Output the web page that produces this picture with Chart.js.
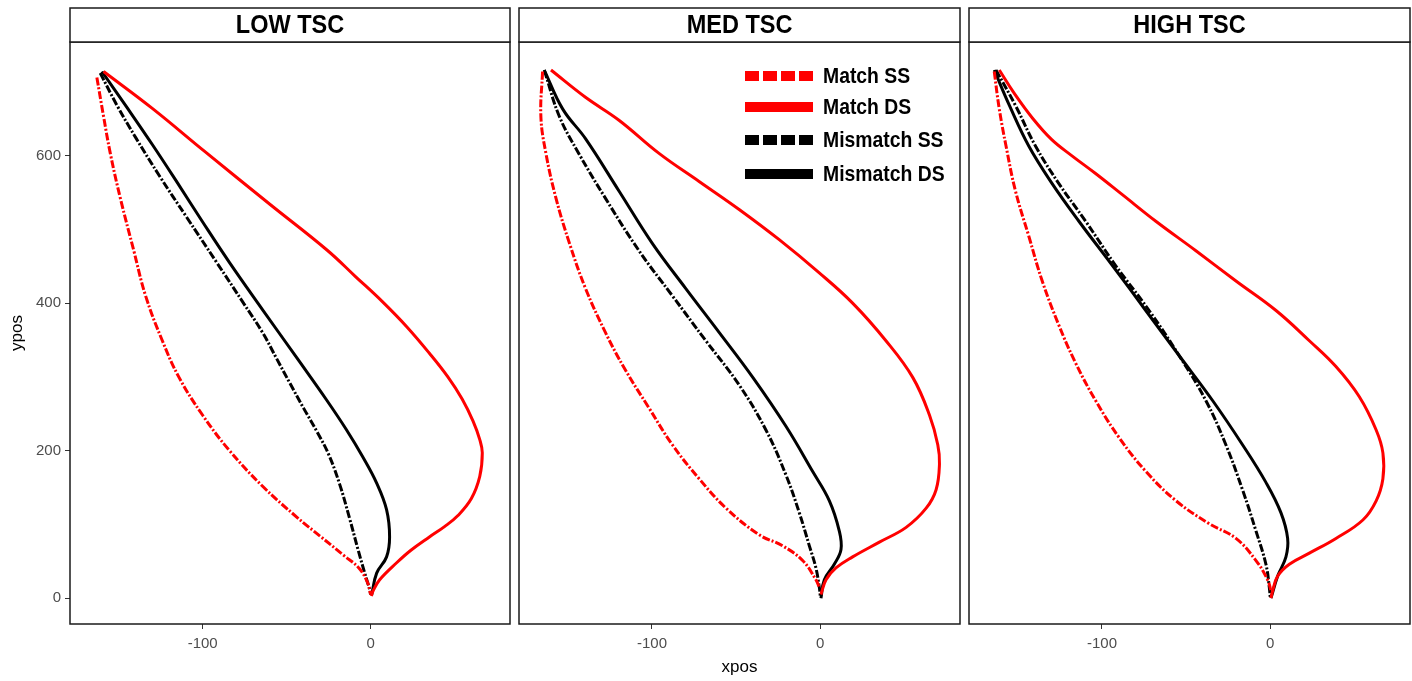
<!DOCTYPE html>
<html>
<head>
<meta charset="utf-8">
<script src="https://cdn.jsdelivr.net/npm/chart.js@4.4.1/dist/chart.umd.min.js"></script>
<style>
  body { margin: 0; background: #fff; width: 1412px; height: 681px; overflow: hidden; position: relative; }
  canvas { position: absolute; top: 0; }
</style>
</head>
<body>
<canvas id="low" width="515" height="681" style="left:0px"></canvas>
<canvas id="med" width="450" height="681" style="left:515px"></canvas>
<canvas id="high" width="447" height="681" style="left:965px"></canvas>
<script>
// Panels, series and ticks
const panelTitles = ['LOW TSC', 'MED TSC', 'HIGH TSC'];
const seriesNames = ['Match SS', 'Match DS', 'Mismatch SS', 'Mismatch DS'];
const xTicks = [-100, 0];
const yTicks = [0, 200, 400, 600];

// LOW TSC traces [xpos, ypos]
const lowMatchSS = [[-163,706],[-159,653],[-155,603],[-149,542],[-141,471],[-134,410],[-124,349],[-114,299],[-100,248],[-84,200],[-64,151],[-44,110],[-30,84],[-16,58],[-7,41],[-1.8,21],[0,5]];
const lowMatchDS = [[-159,714],[-130,664],[-99,606],[-60,534],[-26,472],[-9,436],[7,402],[21.5,368],[35,332],[46,300],[54.5,270],[61,240],[65,215],[66.5,197],[65,165],[60,135],[52,112],[44,97],[35,83],[24,65],[15.5,48],[5.4,25],[1.5,10],[0.4,3]];
const lowMismatchSS = [[-161,712],[-151,668],[-139.5,623],[-125.6,572],[-109.7,517],[-91.9,456],[-75.7,400],[-64.3,360],[-56,325],[-48.2,292],[-40,258],[-32,226],[-25,195],[-18.5,155],[-12.5,108],[-7.5,66],[-3.5,34],[-0.6,12],[0,5]];
const lowMismatchDS = [[-160,714],[-145,665],[-130,615],[-115,563],[-100,510],[-84,455],[-64.3,391],[-44,326],[-26,268],[-14.3,228],[-4.8,192],[3.6,156],[9.5,120],[11.3,83],[9.5,56],[3.6,34],[0.6,4]];

// MED TSC traces
const medMatchSS = [[-165,714],[-166,653],[-163,603],[-157,542],[-149,481],[-139.5,420],[-127.6,360],[-115.7,309],[-101.8,258],[-87.9,208],[-72,162],[-56,122],[-36.3,86],[-22.4,71],[-10.5,51],[-2.6,25],[-0.6,15]];
const medMatchDS = [[-160,716],[-139.5,679],[-119.6,648],[-95.8,603],[-72,565],[-48.2,527],[-24.4,486],[-0.6,441],[19.2,400],[39,349],[55,299],[64.9,248],[69.8,208],[70.8,182],[68.8,147],[62.9,122],[51,96],[35.1,76],[19.2,56],[9.3,41],[3.4,25],[0.4,5]];
const medMismatchSS = [[-164,716],[-155,653],[-143.5,603],[-127.6,542],[-107.7,471],[-87.9,410],[-68,349],[-48.2,289],[-32.3,228],[-20.4,167],[-12.5,116],[-6.5,71],[-2.6,41],[-0.6,15],[0,3]];
const medMismatchDS = [[-164,716],[-153,663],[-139.5,623],[-119.6,552],[-99.8,481],[-80,420],[-60,360],[-40,299],[-20.4,233],[-4.6,172],[5.4,132],[11.3,91],[12.3,66],[8.3,46],[2.4,25],[0.4,0]];

// HIGH TSC traces
const highMatchSS = [[-164,714],[-161,663],[-157,613],[-151.4,552],[-143.5,491],[-135.5,430],[-125.6,370],[-115.7,319],[-103.8,268],[-89.9,218],[-74,172],[-56,132],[-36.3,101],[-20.4,81],[-8.5,51],[-1.6,25],[0.4,10]];
const highMatchDS = [[-161,716],[-152,684],[-141,650],[-130,622],[-118,600],[-104,576],[-87.9,547],[-68,511],[-44.2,471],[-20.4,430],[3.4,390],[23.2,349],[39,314],[52.9,273],[62.9,228],[66.9,197],[66.9,162],[62.9,132],[55,106],[39,81],[23.2,61],[11.3,46],[4.4,30],[1.4,10],[0.4,0]];
const highMismatchSS = [[-163,716],[-151.4,668],[-139.5,613],[-125.6,562],[-109.7,511],[-91.9,451],[-72,390],[-54.2,329],[-38.3,268],[-26.4,208],[-16.5,147],[-8.5,91],[-2.6,46],[-0.6,15],[0,0]];
const highMismatchDS = [[-164,716],[-155,668],[-143.5,613],[-129.6,562],[-113.7,511],[-93.8,451],[-74,390],[-54.2,329],[-34.3,268],[-16.5,208],[-2.6,157],[6.3,116],[10.3,81],[9.3,56],[4.4,30],[0.4,0]];

const panelData = [
    [lowMatchSS, lowMatchDS, lowMismatchSS, lowMismatchDS],
    [medMatchSS, medMatchDS, medMismatchSS, medMismatchDS],
    [highMatchSS, highMatchDS, highMismatchSS, highMismatchDS]
];

const seriesColors = ['#ff0000', '#ff0000', '#000000', '#000000'];
const isDashed = [true, false, true, false];

// frame around the panel + facet strip on top
const panelFrame = {
    id: 'panelFrame',
    afterDraw(chart, args, opts) {
        const { ctx, chartArea: a } = chart;
        ctx.save();
        ctx.strokeStyle = '#1a1a1a';
        ctx.lineWidth = 1.5;
        ctx.strokeRect(a.left, a.top, a.right - a.left, a.bottom - a.top);
        ctx.fillStyle = '#fff';
        ctx.fillRect(a.left, 8, a.right - a.left, a.top - 8);
        ctx.strokeRect(a.left, 8, a.right - a.left, a.top - 8);
        ctx.fillStyle = '#000';
        ctx.font = 'bold 25px "Liberation Sans", Arial, sans-serif';
        ctx.textAlign = 'center';
        ctx.textBaseline = 'middle';
        ctx.translate((a.left + a.right) / 2, 26);
        ctx.scale(0.94, 1);
        ctx.fillText(opts.title, 0, 0);
        ctx.restore();
    }
};

// legend drawn inside the middle panel
const insideLegend = {
    id: 'insideLegend',
    afterDatasetsDraw(chart, args, opts) {
        if (!opts.show) return;
        const ctx = chart.ctx;
        const rows = [76, 107, 140, 174];
        ctx.save();
        chart.data.datasets.forEach((ds, i) => {
            ctx.beginPath();
            ctx.lineWidth = 10;
            ctx.lineCap = 'butt';
            ctx.strokeStyle = ds.borderColor;
            ctx.setLineDash(isDashed[i] ? [14, 4] : []);
            ctx.moveTo(230, rows[i]);
            ctx.lineTo(298, rows[i]);
            ctx.stroke();
            ctx.setLineDash([]);
            ctx.save();
            ctx.fillStyle = '#000';
            ctx.font = 'bold 22px "Liberation Sans", Arial, sans-serif';
            ctx.textAlign = 'left';
            ctx.textBaseline = 'middle';
            ctx.translate(308, rows[i] + 1);
            ctx.scale(0.88, 1);
            ctx.fillText(ds.label, 0, 0);
            ctx.restore();
        });
        ctx.restore();
    }
};

function makePanel(id, idx, padding) {
    const ctx = document.getElementById(id).getContext('2d');
    const showY = idx === 0;
    new Chart(ctx, {
        type: 'scatter',
        data: {
            datasets: seriesNames.map((name, s) => ({
                label: name,
                data: panelData[idx][s].map(p => ({ x: p[0], y: p[1] })),
                showLine: true,
                borderColor: seriesColors[s],
                backgroundColor: seriesColors[s],
                borderWidth: 3,
                borderDash: isDashed[s] ? [8, 2, 2, 2] : [],
                pointRadius: 0,
                tension: 0.4
            }))
        },
        plugins: [panelFrame, insideLegend],
        options: {
            responsive: false,
            animation: false,
            devicePixelRatio: 1,
            layout: { padding: padding },
            plugins: {
                legend: { display: false },
                tooltip: { enabled: false },
                panelFrame: { title: panelTitles[idx] },
                insideLegend: { show: idx === 1 }
            },
            scales: {
                x: {
                    type: 'linear',
                    min: -179,
                    max: 83,
                    afterBuildTicks: s => { s.ticks = xTicks.map(v => ({ value: v })); },
                    afterFit: s => { s.height = 57; },
                    grid: { drawOnChartArea: false, drawTicks: true, tickLength: 5, color: '#333' },
                    border: { display: false },
                    ticks: { color: '#4d4d4d', font: { size: 15, family: '"Liberation Sans", Arial' }, padding: 6, maxRotation: 0 },
                    title: {
                        display: idx === 1,
                        text: 'xpos',
                        color: '#000',
                        font: { size: 17, family: '"Liberation Sans", Arial' },
                        padding: { top: 0, bottom: 3 }
                    }
                },
                y: {
                    type: 'linear',
                    display: showY,
                    min: -35,
                    max: 754,
                    afterBuildTicks: s => { s.ticks = yTicks.map(v => ({ value: v })); },
                    afterFit: s => { if (showY) s.width = 70; },
                    grid: { drawOnChartArea: false, drawTicks: true, tickLength: 5, color: '#333' },
                    border: { display: false },
                    ticks: { color: '#4d4d4d', font: { size: 15, family: '"Liberation Sans", Arial' }, padding: 4 },
                    title: {
                        display: true,
                        text: 'ypos',
                        color: '#000',
                        font: { size: 17, family: '"Liberation Sans", Arial' },
                        padding: { top: 7, bottom: 0 }
                    }
                }
            }
        }
    });
}

document.addEventListener('DOMContentLoaded', () => {
    makePanel('low', 0, { top: 42, right: 5, left: 0, bottom: 0 });
    makePanel('med', 1, { top: 42, right: 5, left: 4, bottom: 0 });
    makePanel('high', 2, { top: 42, right: 2, left: 4, bottom: 0 });
});
</script>
</body>
</html>
